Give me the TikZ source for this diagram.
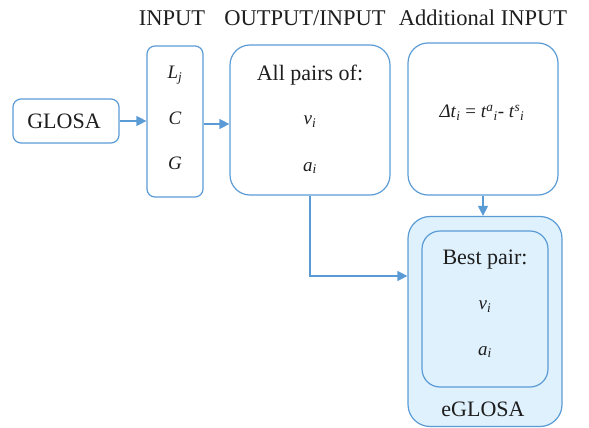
\documentclass[tikz,border=0pt]{standalone}
\usepackage{fontspec}
\setmainfont{Liberation Serif}
\usetikzlibrary{arrows.meta}
\definecolor{bord}{HTML}{5B9BD5}
\definecolor{lfill}{HTML}{DEF1FD}
\definecolor{txt}{HTML}{1E1E1E}
\newcommand{\gxBody}{\rmfamily\fontsize{22}{26}\selectfont}
\newcommand{\gxTitle}{\rmfamily\fontsize{22.5}{27}\selectfont}
\newcommand{\gxMath}{\rmfamily\fontsize{19}{23}\selectfont}
\newcommand{\gxVar}[2]{\textit{#1}\textsubscript{\textit{#2}}}
\begin{document}
\begin{tikzpicture}[x=1pt,y=-1pt,
  box/.style={draw=bord,line width=1.2pt,inner sep=0pt,rectangle},
  lbl/.style={inner sep=0pt,text=txt,font=\gxBody},
  mlbl/.style={inner sep=0pt,text=txt,font=\gxMath},
  ttl/.style={inner sep=0pt,text=txt,font=\gxTitle},
  arr/.style={draw=bord,line width=1.2pt,-{Triangle[length=10pt,width=10pt]}}]
\useasboundingbox (0,0) rectangle (589,428);
% boxes
\node[box,rounded corners=8pt,minimum width=106pt,minimum height=44pt] (glosa) at (66,121) {};
\node[box,rounded corners=8pt,minimum width=56pt,minimum height=151pt] (inp) at (175,121.5) {};
\node[box,rounded corners=20pt,minimum width=160pt,minimum height=150pt] (outb) at (310,120) {};
\node[box,rounded corners=20pt,minimum width=150pt,minimum height=152pt] (addb) at (483,119) {};
\node[box,fill=lfill,rounded corners=22pt,minimum width=154pt,minimum height=210pt] (eg) at (485,321.5) {};
\node[box,fill=lfill,rounded corners=18pt,minimum width=126pt,minimum height=156pt] (best) at (485,309) {};
% titles
\node[ttl] (t1) at (172,18) {INPUT};
\node[ttl] (t2) at (305,18) {OUTPUT/INPUT};
\node[ttl] (t3) at (483,18) {Additional INPUT};
% texts
\node[lbl] (glosat) at (64,121) {GLOSA};
\node[mlbl] (lj) at (175,75) {\gxVar{L}{j}};
\node[mlbl] (cc) at (175,118) {\textit{C}};
\node[mlbl] (gg) at (175,163) {\textit{G}};
\node[lbl] (allp) at (310,75) {All pairs of:};
\node[mlbl] (v1) at (310,122) {\gxVar{v}{i}};
\node[mlbl] (a1) at (310,168) {\gxVar{a}{i}};
\node[mlbl] (dt) at (482,113) {\textit{Δt}\textsubscript{\textit{i}} = \textit{t}\textsuperscript{\textit{a}}\textsubscript{\textit{i}}- \textit{t}\textsuperscript{\textit{s}}\textsubscript{\textit{i}}};
\node[lbl] (bp) at (485,260) {Best pair:};
\node[mlbl] (v2) at (485,307) {\gxVar{v}{i}};
\node[mlbl] (a2) at (485,352) {\gxVar{a}{i}};
\node[lbl] (egt) at (483,409) {eGLOSA};
% connectors
\coordinate (ent) at (eg.west |- 0,276);
\draw[arr] (glosa.east) -- (glosa.east -| inp.west);
\draw[arr] (inp.east |- 0,124) -- (outb.west |- 0,124);
\draw[arr] (outb.south) |- (ent);
\draw[arr] (addb.south) -- (addb.south |- eg.north);
\end{tikzpicture}
\end{document}
